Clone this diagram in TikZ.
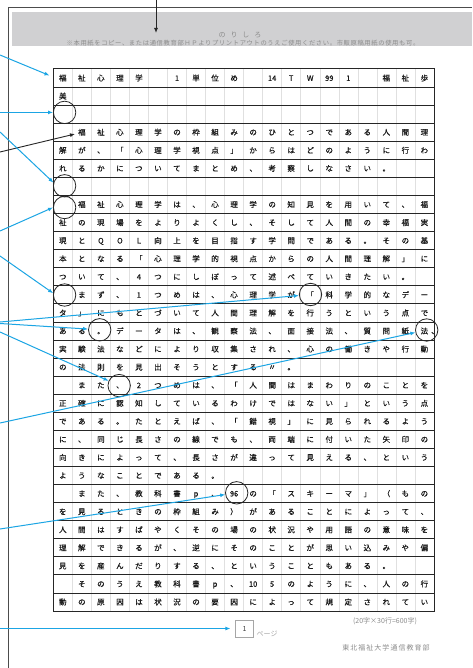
\documentclass[tikz,border=0pt]{standalone}
\usepackage{fontspec}
\setmainfont{Noto Sans CJK JP}
\usetikzlibrary{arrows.meta}
\definecolor{arrowblue}{RGB}{27,165,228}
\definecolor{bandgray}{RGB}{208,208,210}
\newcommand\genrow[3]{\foreach \c [count=\i from #2] in {#3}{\node[ch] (t#1-\i) at ({53.3+(\i-0.5)*19.03},{69+(#1-0.5)*18.067}) {\c};}}
\begin{document}
\begin{tikzpicture}[x=1pt,y=-1pt,
  ch/.style={inner sep=0pt, text height=6.6pt, text depth=0.9pt, font=\fontsize{7.5}{9}\selectfont\addfontfeature{FakeBold=0.6}, text=black!90},
  circ/.style={circle, draw=black!85, line width=0.8pt, minimum size=22.4pt, inner sep=0pt},
  barrow/.style={draw=arrowblue, line width=1pt, -{Latex[length=5pt,width=4pt]}},
  karrow/.style={draw=black!85, line width=0.9pt, -{Latex[length=5pt,width=4pt]}},
  graytext/.style={text=black!45, inner sep=0pt}]
\useasboundingbox (0,0) rectangle (472,668);
\fill[white] (0,0) rectangle (472,668);
% paste band and page edge
\fill[bandgray] (12,12) rectangle (472,45.7);
\draw[black!70, line width=1pt] (8,668) -- (8,8) -- (472,8);
\node[graytext, font=\fontsize{7}{8}\selectfont] (noritxt) at (240,35) {の\hspace{5pt}り\hspace{5pt}し\hspace{5pt}ろ};
\node[graytext, font=\fontsize{6.3}{8}\selectfont\addfontfeature{LetterSpace=10}] (notice) at (243,43) {※本用紙をコピー、または通信教育部ＨＰよりプリントアウトのうえご使用ください。市販原稿用紙の使用も可。};
% grid
\foreach \j in {1,...,19} \draw[black!12, line width=0.4pt] ({53.3+\j*19.03},69) -- ({53.3+\j*19.03},611);
\foreach \k in {1,...,29} \draw[black!85, line width=0.8pt] (53.3,{69+\k*18.067}) -- (434,{69+\k*18.067});
\draw[black!85, line width=1pt] (53.3,69) rectangle (434,611);
% text
\genrow{1}{1}{福,祉,心,理,学}
\genrow{1}{7}{1,単,位,め}
\genrow{1}{12}{14,T,W,99,1}
\genrow{1}{18}{福,祉,歩}
\genrow{2}{1}{美}
\genrow{4}{2}{福,祉,心,理,学,の,枠,組,み,の,ひ,と,つ,で,あ,る,人,間,理}
\genrow{5}{1}{解,が,、,「,心,理,学,視,点,」,か,ら,は,ど,の,よ,う,に,行,わ}
\genrow{6}{1}{れ,る,か,に,つ,い,て,ま,と,め,、,考,察,し,な,さ,い,。}
\genrow{8}{2}{福,祉,心,理,学,は,、,心,理,学,の,知,見,を,用,い,て,、,福}
\genrow{9}{1}{祉,の,現,場,を,よ,り,よ,く,し,、,そ,し,て,人,間,の,幸,福,実}
\genrow{10}{1}{現,と,Q,O,L,向,上,を,目,指,す,学,問,で,あ,る,。,そ,の,基}
\genrow{11}{1}{本,と,な,る,「,心,理,学,的,視,点,か,ら,の,人,間,理,解,」,に}
\genrow{12}{1}{つ,い,て,、,4,つ,に,し,ぼ,っ,て,述,べ,て,い,き,た,い,。}
\genrow{13}{2}{ま,ず,、,1,つ,め,は,、,心,理,学,が,「,科,学,的,な,デ,ー}
\genrow{14}{1}{タ,」,に,も,と,づ,い,て,人,間,理,解,を,行,う,と,い,う,点,で}
\genrow{15}{1}{あ,る,。,デ,ー,タ,は,、,観,察,法,、,面,接,法,、,質,問,紙,法}
\node[ch] (t15-h) at (435,330.9) {、};
\genrow{16}{1}{実,験,法,な,ど,に,よ,り,収,集,さ,れ,、,心,の,働,き,や,行,動}
\genrow{17}{1}{の,法,則,を,見,出,そ,う,と,す,る,〃,。}
\genrow{18}{2}{ま,た,、,2,つ,め,は,、,「,人,間,は,ま,わ,り,の,こ,と,を}
\genrow{19}{1}{正,確,に,認,知,し,て,い,る,わ,け,で,は,な,い,」,と,い,う,点}
\genrow{20}{1}{で,あ,る,。,た,と,え,ば,、,「,錯,視,」,に,見,ら,れ,る,よ,う}
\genrow{21}{1}{に,、,同,じ,長,さ,の,線,で,も,、,両,端,に,付,い,た,矢,印,の}
\genrow{22}{1}{向,き,に,よ,っ,て,、,長,さ,が,違,っ,て,見,え,る,、,と,い,う}
\genrow{23}{1}{よ,う,な,こ,と,で,あ,る,。}
\genrow{24}{2}{ま,た,、,教,科,書,p,、,96,の,「,ス,キ,ー,マ,」,（,も,の}
\genrow{25}{1}{を,見,る,と,き,の,枠,組,み,）,が,あ,る,こ,と,に,よ,っ,て,、}
\genrow{26}{1}{人,間,は,す,ば,や,く,そ,の,場,の,状,況,や,用,語,の,意,味,を}
\genrow{27}{1}{理,解,で,き,る,が,、,逆,に,そ,の,こ,と,が,思,い,込,み,や,偏}
\genrow{28}{1}{見,を,産,ん,だ,り,す,る,、,と,い,う,こ,と,も,あ,る,。}
\genrow{29}{2}{そ,の,う,え,教,科,書,p,、,10,5,の,よ,う,に,、,人,の,行}
\genrow{30}{1}{動,の,原,因,は,状,況,の,要,因,に,よ,っ,て,規,定,さ,れ,て,い}
% circles
\node[circ] (c3) at (64.6,112.4) {};
\node[circ] (c7) at (64.6,185.8) {};
\node[circ] (c8) at (64.6,207.5) {};
\node[circ] (c13) at (64.6,295) {};
\node[circ] (c13b) at (310.5,294.5) {};
\node[circ] (c15) at (99.7,329.8) {};
\node[circ] (c15b) at (426.7,330) {};
\node[circ] (c18) at (119.2,385.6) {};
\node[circ] (c24) at (236.7,492.8) {};
% footer
\node[draw=black!35, line width=0.6pt, minimum width=17.6pt, minimum height=17pt, inner sep=0pt, font=\fontsize{7}{8}\selectfont, text=black!75] (pg) at (244.5,629.2) {1};
\node[text=black!35, inner sep=0pt, anchor=west, font=\fontsize{7}{8}\selectfont] (pglabel) at (256.5,634) {ページ};
\node[graytext, font=\fontsize{7}{8}\selectfont] (count) at (385,621) {(20字×30行=600字)};
\node[graytext, font=\fontsize{7}{8}\selectfont\addfontfeature{LetterSpace=15}] (school) at (386,648) {東北福祉大学通信教育部};
% connector ends
\coordinate (ktop) at (156,0);
\coordinate (nori) at (156,33);
\coordinate (k2s) at (0,152);
\coordinate (indent) at (75,134);
\coordinate (b1s) at (0,55);
\coordinate (hdr) at (49.5,75.5);
\coordinate (b2s) at (0,112.4);
\coordinate (b3s) at (0,132);
\coordinate (b4s) at (0,231);
\coordinate (b5s) at (0,256);
\coordinate (b6s) at (0,322);
\coordinate (b7s) at (0,323.5);
\coordinate (b8s) at (0,332);
\coordinate (b9s) at (0,423);
\coordinate (b10s) at (0,529);
\coordinate (b11s) at (0,628.5);
% arrows
\draw[karrow] (ktop) -- (nori);
\draw[karrow] (k2s) -- (indent);
\draw[barrow] (b1s) -- (hdr);
\draw[barrow] (b2s) -- (c3);
\draw[barrow] (b3s) -- (c7.164);
\draw[barrow] (b4s) -- (c8.west);
\draw[barrow] (b5s) -- (c13.171);
\draw[barrow] (b6s) -- (c13b);
\draw[barrow] (b7s) -- (c15);
\draw[barrow] (b8s) -- (c18);
\draw[barrow] (b9s) -- (c15b);
\draw[barrow] (b10s) -- (c24);
\draw[barrow, shorten >=5pt] (b11s) -- (pg.west |- b11s);
\end{tikzpicture}
\end{document}
